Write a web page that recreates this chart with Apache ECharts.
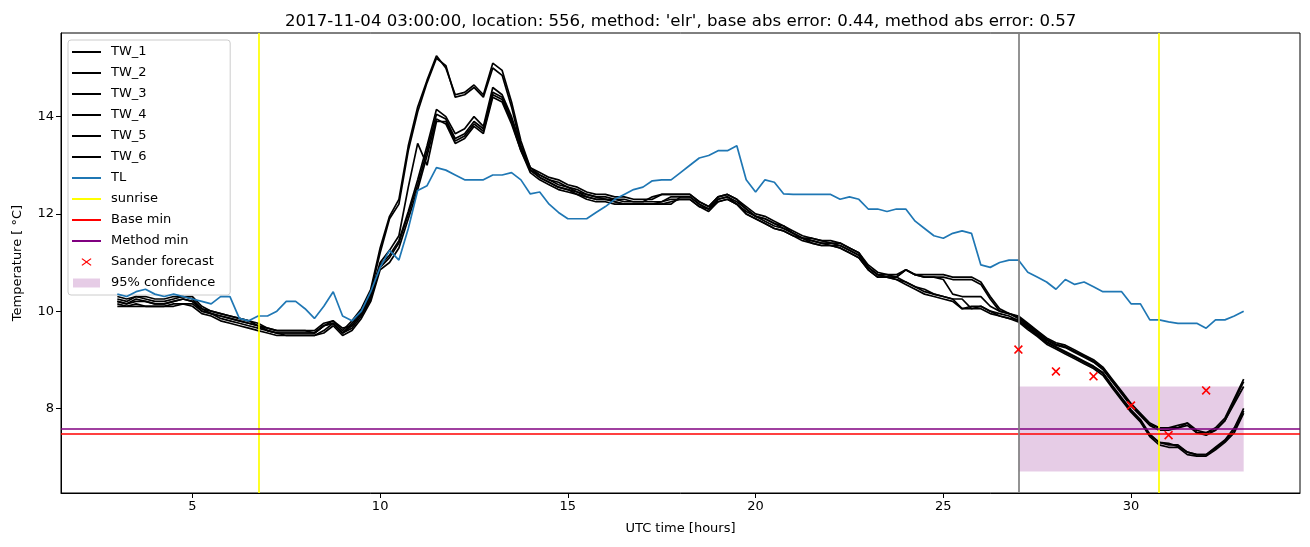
<!DOCTYPE html>
<html>
<head>
<meta charset="utf-8">
<script src="https://cdn.jsdelivr.net/npm/echarts@6/dist/echarts.min.js"></script>
<style>
html,body{margin:0;padding:0;background:#fff;}
#chart{width:1310px;height:547px;}
</style>
</head>
<body>
<div id="chart"></div>
<script>
// ---- data (UTC hours, temperatures in deg C) ----
const hours = [
 3,3.25,3.5,3.75, 4,4.25,4.5,4.75, 5,5.25,5.5,5.75, 6,6.25,6.5,6.75,
 7,7.25,7.5,7.75, 8,8.25,8.5,8.75, 9,9.25,9.5,9.75, 10,10.25,10.5,10.75,
 11,11.25,11.5,11.75, 12,12.25,12.5,12.75, 13,13.25,13.5,13.75, 14,14.25,14.5,14.75,
 15,15.25,15.5,15.75, 16,16.25,16.5,16.75, 17,17.25,17.5,17.75, 18,18.25,18.5,18.75,
 19,19.25,19.5,19.75, 20,20.25,20.5,20.75, 21,21.25,21.5,21.75, 22,22.25,22.5,22.75,
 23,23.25,23.5,23.75, 24,24.25,24.5,24.75, 25,25.25,25.5,25.75, 26,26.25,26.5,26.75,
 27,27.25,27.5,27.75, 28,28.25,28.5,28.75, 29,29.25,29.5,29.75, 30,30.25,30.5,30.75,
 31,31.25,31.5,31.75, 32,32.25,32.5,32.75, 33
];

const TL = [
 10.35,10.3,10.4,10.45, 10.35,10.3,10.35,10.3, 10.25,10.2,10.15,10.3, 10.3,9.85,9.8,9.9,
 9.9,10.0,10.2,10.2, 10.05,9.85,10.1,10.4, 9.9,9.8,10.0,10.4, 10.9,11.25,11.05,11.7,
 12.48,12.58,12.95,12.9, 12.8,12.7,12.7,12.7, 12.8,12.8,12.85,12.7, 12.41,12.45,12.2,12.03,
 11.9,11.9,11.9,12.03, 12.15,12.3,12.4,12.5, 12.55,12.68,12.7,12.7, 12.85,13.0,13.15,13.2,
 13.3,13.3,13.4,12.7, 12.45,12.7,12.65,12.41, 12.4,12.4,12.4,12.4, 12.4,12.3,12.35,12.3,
 12.1,12.1,12.05,12.1, 12.1,11.85,11.7,11.55, 11.5,11.6,11.65,11.6, 10.95,10.9,11.0,11.05,
 11.05,10.8,10.7,10.6, 10.45,10.65,10.55,10.6, 10.5,10.4,10.4,10.4, 10.15,10.15,9.82,9.82,
 9.78,9.75,9.75,9.75, 9.65,9.82,9.82,9.9, 10.0
];

const TW_1 = [
 10.25,10.2,10.3,10.25, 10.2,10.2,10.25,10.3, 10.25,10.05,10.0,9.95, 9.9,9.85,9.8,9.75,
 9.65,9.6,9.6,9.6, 9.6,9.6,9.75,9.8, 9.6,9.8,10.05,10.45, 11.3,11.95,12.3,13.4,
 14.2,14.75,15.25,15.0, 14.45,14.5,14.65,14.45, 15.1,14.95,14.3,13.5, 12.95,12.85,12.75,12.7,
 12.6,12.55,12.45,12.4, 12.4,12.35,12.35,12.3, 12.3,12.3,12.4,12.4, 12.4,12.4,12.25,12.15,
 12.35,12.4,12.3,12.15, 12.0,11.95,11.85,11.75, 11.65,11.55,11.5,11.45, 11.4,11.4,11.3,11.2,
 10.95,10.8,10.75,10.75, 10.85,10.75,10.75,10.75, 10.75,10.7,10.7,10.7, 10.6,10.3,10.05,9.95,
 9.9,9.75,9.6,9.45, 9.35,9.3,9.2,9.1, 9.0,8.85,8.6,8.35, 8.1,7.9,7.7,7.6,
 7.6,7.65,7.7,7.55, 7.5,7.6,7.8,8.2, 8.6
];

const TW_2 = [
 10.2,10.15,10.2,10.2, 10.15,10.15,10.2,10.25, 10.2,10.0,9.95,9.9, 9.85,9.8,9.75,9.7,
 9.6,9.55,9.55,9.55, 9.55,9.55,9.7,9.75, 9.55,9.75,10.0,10.4, 11.2,11.9,12.2,13.3,
 14.1,14.7,15.2,15.05, 14.4,14.45,14.6,14.4, 15.0,14.85,14.2,13.4, 12.9,12.8,12.7,12.65,
 12.55,12.5,12.4,12.35, 12.35,12.3,12.3,12.25, 12.25,12.25,12.25,12.35, 12.35,12.35,12.2,12.1,
 12.3,12.35,12.25,12.1, 11.95,11.9,11.8,11.7, 11.6,11.5,11.45,11.4, 11.35,11.35,11.25,11.15,
 10.9,10.75,10.7,10.7, 10.6,10.5,10.4,10.35, 10.3,10.25,10.05,10.1, 10.1,10.0,9.95,9.9,
 9.8,9.65,9.5,9.35, 9.25,9.15,9.05,8.95, 8.85,8.72,8.45,8.2, 7.95,7.75,7.45,7.3,
 7.25,7.25,7.1,7.05, 7.05,7.2,7.35,7.6, 8.0
];

const TW_3 = [
 10.15,10.1,10.15,10.1, 10.1,10.1,10.15,10.15, 10.15,10.0,9.95,9.85, 9.8,9.75,9.7,9.65,
 9.6,9.55,9.5,9.5, 9.5,9.5,9.6,9.75, 9.55,9.65,9.9,10.25, 10.9,11.1,11.4,12.0,
 12.6,13.3,14.05,13.95, 13.55,13.65,13.9,13.75, 14.5,14.4,13.95,13.35, 12.9,12.75,12.65,12.55,
 12.5,12.45,12.35,12.3, 12.3,12.25,12.2,12.2, 12.2,12.2,12.2,12.2, 12.35,12.35,12.2,12.1,
 12.3,12.35,12.2,12.05, 11.95,11.85,11.75,11.7, 11.6,11.5,11.45,11.4, 11.4,11.35,11.25,11.15,
 10.9,10.75,10.7,10.7, 10.85,10.75,10.7,10.7, 10.7,10.65,10.65,10.65, 10.55,10.25,10.0,9.95,
 9.85,9.7,9.55,9.4, 9.3,9.25,9.15,9.05, 8.95,8.8,8.55,8.3, 8.05,7.85,7.65,7.55,
 7.55,7.6,7.65,7.5, 7.45,7.55,7.75,8.1, 8.45
];

const TW_4 = [
 10.1,10.1,10.1,10.1, 10.1,10.1,10.1,10.15, 10.1,9.95,9.9,9.8, 9.75,9.7,9.65,9.6,
 9.55,9.5,9.5,9.5, 9.5,9.5,9.55,9.7, 9.5,9.6,9.85,10.2, 10.85,11.0,11.3,11.9,
 12.5,13.2,13.95,13.85, 13.45,13.55,13.8,13.65, 14.4,14.3,13.85,13.3, 12.85,12.7,12.6,12.5,
 12.45,12.4,12.3,12.25, 12.25,12.2,12.2,12.2, 12.2,12.2,12.2,12.25, 12.3,12.3,12.15,12.1,
 12.25,12.3,12.2,12.0, 11.9,11.8,11.7,11.65, 11.55,11.45,11.4,11.35, 11.35,11.3,11.2,11.1,
 10.85,10.7,10.7,10.65, 10.55,10.45,10.35,10.3, 10.25,10.2,10.05,10.05, 10.05,9.95,9.9,9.85,
 9.78,9.62,9.48,9.32, 9.22,9.12,9.02,8.92, 8.82,8.68,8.42,8.17, 7.92,7.72,7.42,7.25,
 7.2,7.2,7.05,7.02, 7.02,7.15,7.3,7.5, 7.9
];

const TW_5 = [
 10.3,10.25,10.3,10.3, 10.25,10.25,10.3,10.3, 10.3,10.1,10.0,9.95, 9.9,9.85,9.8,9.7,
 9.65,9.6,9.6,9.6, 9.6,9.55,9.7,9.8, 9.65,9.7,9.95,10.3, 10.95,11.15,11.45,12.05,
 12.7,13.4,14.15,14.0, 13.65,13.75,14.0,13.8, 14.6,14.45,14.0,13.4, 12.95,12.8,12.7,12.6,
 12.55,12.45,12.4,12.35, 12.3,12.3,12.25,12.25, 12.25,12.35,12.4,12.4, 12.4,12.4,12.25,12.15,
 12.35,12.4,12.3,12.1, 11.95,11.9,11.8,11.75, 11.6,11.5,11.5,11.45, 11.45,11.4,11.3,11.2,
 10.9,10.75,10.75,10.7, 10.85,10.75,10.7,10.7, 10.65,10.35,10.3,10.3, 10.3,10.1,10.0,9.95,
 9.88,9.72,9.58,9.42, 9.32,9.27,9.17,9.08, 8.97,8.82,8.57,8.32, 8.07,7.87,7.67,7.6,
 7.6,7.6,7.7,7.5, 7.5,7.55,7.75,8.15, 8.55
];

const TW_6 = [
 10.2,10.15,10.25,10.2, 10.15,10.15,10.2,10.25, 10.2,10.05,9.95,9.9, 9.85,9.8,9.75,9.7,
 9.6,9.55,9.55,9.55, 9.55,9.55,9.7,9.75, 9.55,9.7,9.95,10.35, 11.0,11.25,11.55,12.55,
 13.45,13.0,13.9,13.9, 13.5,13.6,13.85,13.7, 14.45,14.35,13.9,13.3, 12.9,12.75,12.65,12.55,
 12.5,12.4,12.35,12.3, 12.3,12.25,12.2,12.2, 12.2,12.2,12.25,12.3, 12.3,12.3,12.15,12.05,
 12.25,12.3,12.2,12.0, 11.9,11.8,11.7,11.65, 11.55,11.5,11.4,11.35, 11.35,11.3,11.2,11.1,
 10.85,10.7,10.7,10.65, 10.6,10.5,10.45,10.35, 10.3,10.25,10.25,10.05, 10.1,10.0,9.9,9.85,
 9.82,9.67,9.52,9.37, 9.27,9.17,9.07,8.97, 8.87,8.74,8.47,8.22, 7.97,7.77,7.47,7.3,
 7.28,7.22,7.1,7.05, 7.05,7.18,7.33,7.55, 7.95
];

const sunriseTimes = [6.76, 30.73];
const nowTime = [27.0];
const baseMin = [7.47];
const methodMin = [7.59];
const sanderHours = [27, 28, 29, 30, 31, 32];
const sanderValues = [9.21, 8.76, 8.66, 8.06, 7.45, 8.37];
const confHours = [27, 33];
const confBounds = [6.70, 8.45];

const xTicks = [5, 10, 15, 20, 25, 30];
const yTicks = [8, 10, 12, 14];

// ---- chart ----
const FONT = 'DejaVu Sans';
const zip = (xs, ys) => xs.map((x, i) => [x, ys[i]]);
const twSets = [['TW_1', TW_1], ['TW_2', TW_2], ['TW_3', TW_3], ['TW_4', TW_4], ['TW_5', TW_5], ['TW_6', TW_6]];

// legend icons: corner specks fix the 29x14 box so the visible glyph keeps its size
const BOX = 'M0,0L0.01,0L0,0.01Z M29,14L28.99,14L29,13.99Z ';
const lineIcon = 'path://' + BOX + 'M0,6L29,6L29,8L0,8Z';
const xMarkIcon = 'path://' + BOX + 'M10.3,3.2L14.5,6.3L18.7,3.2L19.5,4L15.4,7L19.5,10L18.7,10.8L14.5,7.7L10.3,10.8L9.5,10L13.6,7L9.5,4Z';
const rectIcon = 'path://' + BOX + 'M1,2.5L28,2.5L28,11.5L1,11.5Z';
const xMarkerSymbol = 'path://M1.3,0L5,3.7L8.7,0L10,1.3L6.3,5L10,8.7L8.7,10L5,6.3L1.3,10L0,8.7L3.7,5L0,1.3Z';

const LW = 1.7;
const series = [];
series.push({
  name: '95% confidence', type: 'line', data: [], z: 1,
  itemStyle: { color: 'rgba(128,0,128,0.2)' },
  markArea: {
    silent: true,
    itemStyle: { color: 'rgba(128,0,128,0.2)' },
    data: [[{ coord: [confHours[0], confBounds[1]] }, { coord: [confHours[1], confBounds[0]] }]]
  }
});
twSets.forEach(([name, arr]) => {
  series.push({
    name, type: 'line', data: zip(hours, arr), symbol: 'none', z: 3,
    itemStyle: { color: '#000000' },
    lineStyle: { color: '#000000', width: LW }
  });
});
series.push({
  name: 'TL', type: 'line', data: zip(hours, TL), symbol: 'none', z: 4,
  itemStyle: { color: '#1f77b4' },
  lineStyle: { color: '#1f77b4', width: LW }
});
const refLine = (name, color, key, vals, z) => ({
  name, type: 'line', data: [], symbol: 'none', z,
  itemStyle: { color }, lineStyle: { color, width: LW },
  markLine: {
    silent: true, symbol: ['none', 'none'], label: { show: false },
    lineStyle: { color, width: LW, type: 'solid' },
    emphasis: { disabled: true },
    data: vals.map(v => ({ [key]: v }))
  }
});
series.push(refLine('sunrise', '#ffff00', 'xAxis', sunriseTimes, 5));
series.push(refLine('Base min', '#ff0000', 'yAxis', baseMin, 5));
series.push(refLine('Method min', '#800080', 'yAxis', methodMin, 5));
series.push(refLine('now', '#808080', 'xAxis', nowTime, 5));
series.push({
  name: 'Sander forecast', type: 'scatter', data: zip(sanderHours, sanderValues),
  symbol: xMarkerSymbol, symbolSize: 9, z: 6,
  itemStyle: { color: '#ff0000', opacity: 1 }
});

const lineLegend = [['TW_1', '#000000'], ['TW_2', '#000000'], ['TW_3', '#000000'], ['TW_4', '#000000'],
  ['TW_5', '#000000'], ['TW_6', '#000000'], ['TL', '#1f77b4'], ['sunrise', '#ffff00'],
  ['Base min', '#ff0000'], ['Method min', '#800080']];
const legendData = lineLegend.map(([n, c]) => ({ name: n, icon: lineIcon, itemStyle: { color: c } }));
legendData.push({ name: 'Sander forecast', icon: xMarkIcon, itemStyle: { color: '#ff0000' } });
legendData.push({ name: '95% confidence', icon: rectIcon, itemStyle: { color: 'rgba(128,0,128,0.2)' } });

const option = {
  animation: false,
  backgroundColor: '#ffffff',
  textStyle: { fontFamily: FONT },
  title: {
    text: "2017-11-04 03:00:00, location: 556, method: 'elr', base abs error: 0.44, method abs error: 0.57",
    left: 280, top: 8,
    textStyle: { fontFamily: FONT, fontSize: 16.6, fontWeight: 'normal', color: '#000' }
  },
  legend: {
    orient: 'vertical', left: 68, top: 40,
    data: legendData,
    itemWidth: 29, itemHeight: 14, itemGap: 7,
    padding: [5, 15, 5, 4],
    borderColor: '#cccccc', borderWidth: 1, borderRadius: 3,
    backgroundColor: 'rgba(255,255,255,0.8)',
    selectedMode: false,
    textStyle: { fontFamily: FONT, fontSize: 13, color: '#000', padding: [0, 0, 0, 5] }
  },
  grid: {
    left: 61, right: 10, top: 33, bottom: 54,
    show: true, borderColor: '#000', borderWidth: 1, backgroundColor: 'transparent'
  },
  xAxis: {
    type: 'value', min: 1.5, max: 34.5,
    name: 'UTC time [hours]', nameLocation: 'middle', nameGap: 29,
    nameTextStyle: { fontFamily: FONT, fontSize: 13, color: '#000' },
    axisLine: { show: true, lineStyle: { color: '#000', width: 1 } },
    axisTick: { show: true, length: 5, inside: false, customValues: xTicks, lineStyle: { color: '#000' } },
    axisLabel: { customValues: xTicks, fontFamily: FONT, fontSize: 13, color: '#000', margin: 7 },
    splitLine: { show: false }
  },
  yAxis: {
    type: 'value', min: 6.26, max: 15.72,
    name: 'Temperature [ °C]', nameLocation: 'middle', nameGap: 37, nameRotate: 90,
    nameTextStyle: { fontFamily: FONT, fontSize: 13, color: '#000' },
    axisLine: { show: true, lineStyle: { color: '#000', width: 1 } },
    axisTick: { show: true, length: 5, inside: false, customValues: yTicks, lineStyle: { color: '#000' } },
    axisLabel: { customValues: yTicks, fontFamily: FONT, fontSize: 13, color: '#000', margin: 7 },
    splitLine: { show: false }
  },
  series
};

const chart = echarts.init(document.getElementById('chart'), null, { renderer: 'canvas' });
chart.setOption(option);
</script>
</body>
</html>
